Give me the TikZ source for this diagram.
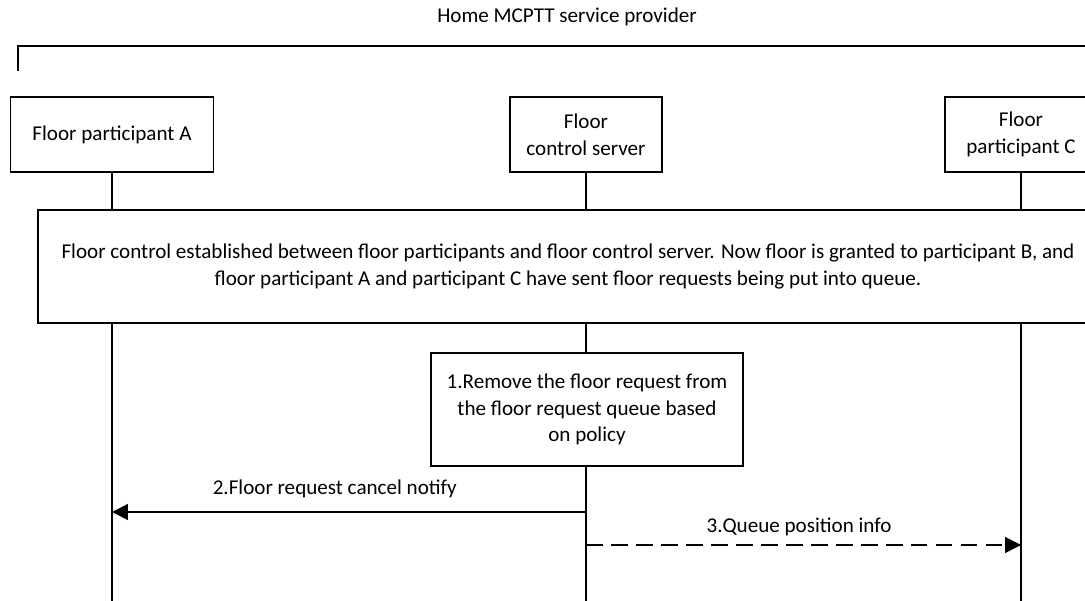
\documentclass[tikz,border=0pt]{standalone}
\usepackage{fontspec}
\setmainfont{Carlito}
\usepackage{tikz}
\usetikzlibrary{arrows.meta,positioning,calc}
\tikzset{
  fcEnt/.style={draw, fill=white, line width=0.5pt, inner sep=1pt,
    minimum width=1.52cm, minimum height=0.75cm, align=center},
  fcNote/.style={draw, fill=white, line width=0.5pt, inner sep=1pt,
    minimum height=1.13cm, align=center},
  %% Message arrows
  fcmsg/.style={-{Triangle[length=4.5pt, width=4.5pt]}, line width=0.5pt},
  fcopt/.style={fcmsg, dash pattern=on 4.8pt off 2.3pt},
  %% Lifelines
  fclife/.style={line width=0.5pt},
}

\begin{document}
\begin{tikzpicture}[x=0.01cm, y=-0.01cm, font=\fontsize{6}{7.6}\selectfont]
\useasboundingbox (0,0) rectangle (1085,601);
\clip (0,0) rectangle (1085,601);

\node[inner sep=0pt] (tHome) at (567,17) {Home MCPTT service provider};
\coordinate (hL) at (18,71);
\coordinate (hR) at (1100,46);
\draw[line width=0.5pt] (hL) |- (hR);

\node[fcEnt, minimum width=2.03cm] (pA)   at (112,134.5) {Floor participant A};
\node[fcEnt]                       (pFCS) at (586,134.5) {Floor\\control server};
\node[fcEnt]                       (pC)   at (1021,134.5) {Floor\\participant C};

\coordinate (bot) at (0,610);
\foreach \p in {pA, pFCS, pC}
  \draw[fclife] (\p.south) -- (\p |- bot);

\node[fcNote, minimum width=10.6cm] (nEst) at (568,266.5)
  {Floor control established between floor participants and floor control server. Now floor is granted to participant B, and\\
   floor participant A and participant C have sent floor requests being put into queue.};
\node[fcNote, minimum width=3.12cm] (nRem) at (587,409.5)
  {1.Remove the floor request from\\the floor request queue based\\on policy};

\coordinate (m2) at (0,512);
\coordinate (m3) at (0,545);
\draw[fcmsg] (pFCS |- m2) -- node[above=0.3pt, pos=0.53]{2.Floor request cancel notify} (pA |- m2);
\draw[fcopt] (pFCS |- m3) -- node[above=-1.1pt, pos=0.49]{3.Queue position info} (pC |- m3);

\end{tikzpicture}
\end{document}
